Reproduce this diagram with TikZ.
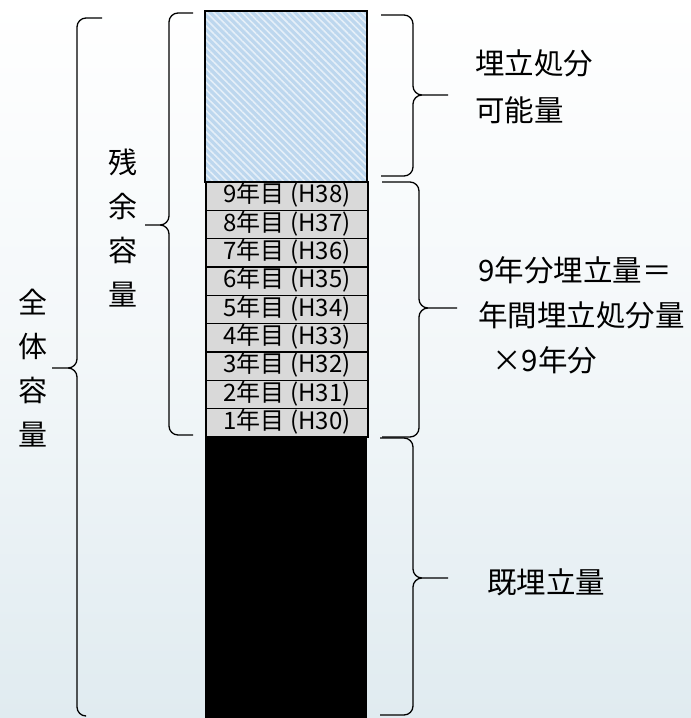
\documentclass[tikz,border=0pt]{standalone}
\usepackage{fontspec}
\setmainfont{Noto Sans CJK JP}
\usetikzlibrary{patterns.meta}
\definecolor{bgblue}{RGB}{224,235,240}
\definecolor{hatchblue}{RGB}{189,215,238}
\definecolor{boxgray}{RGB}{217,217,217}

\begin{document}
\begin{tikzpicture}[x=1pt,y=-1pt,
  brc/.style={line width=1.3pt, rounded corners=9pt},
  yearbox/.style={draw, fill=boxgray, line width=1.4pt, minimum width=162pt, minimum height=28.33pt, inner sep=0pt, font=\fontsize{24}{26}\selectfont, text height=18pt, text depth=5pt},
  lbl/.style={anchor=west, align=left, inner sep=0pt},
  vlbl/.style={align=center, inner sep=0pt, font=\fontsize{29}{44}\selectfont}]
\useasboundingbox (0,0) rectangle (691,718);
\shade[top color=white, bottom color=bgblue, middle color=white!60!bgblue] (0,0) rectangle (691,718);
% column
\fill[hatchblue] (205,11) rectangle (367,182);
\fill[pattern={Lines[angle=-45,distance=5pt,line width=1.6pt]}, pattern color=white!60!hatchblue] (205,11) rectangle (367,182);
\draw[line width=1.4pt] (205,11) rectangle (367,182);
\foreach \i in {1,...,9} {
  \pgfmathtruncatemacro\h{29+\i}
  \node[yearbox] (yr\i) at (287,437-28.33*\i+14.17) {{\i}年目 (H\h)};
}
\fill[black] (205,437) rectangle (367,720);
% braces
\draw[brc] (448,95) -- (413,95) -- (413,15) -- (381,15) (448,95) -- (413,95) -- (413,176) -- (381,176);
\draw[brc] (457,308) -- (419,308) -- (419,182) -- (382,182) (457,308) -- (419,308) -- (419,437) -- (382,437);
\draw[brc] (448,578) -- (413,578) -- (413,438) -- (380,438) (448,578) -- (413,578) -- (413,715) -- (380,715);
\draw[brc] (145,225) -- (169,225) -- (169,13) -- (193,13) (145,225) -- (169,225) -- (169,435) -- (193,435);
\draw[brc] (52,368) -- (77,368) -- (77,18) -- (102,18) (52,368) -- (77,368) -- (77,716) -- (85,716);
% labels
\node[vlbl] (remain) at (123,228) {残\\余\\容\\量};
\node[vlbl] (total) at (33,368) {全\\体\\容\\量};
\node[lbl, font=\fontsize{29.5}{47}\selectfont] (possible) at (475,87) {埋立処分\\可能量};
\node[lbl, font=\fontsize{29.5}{45}\selectfont] (nineyr) at (478,315) {9年分埋立量＝\\年間埋立処分量\\\hspace*{14pt}×9年分};
\node[lbl, font=\fontsize{29.5}{45}\selectfont] (done) at (487,582) {既埋立量};
\end{tikzpicture}
\end{document}
